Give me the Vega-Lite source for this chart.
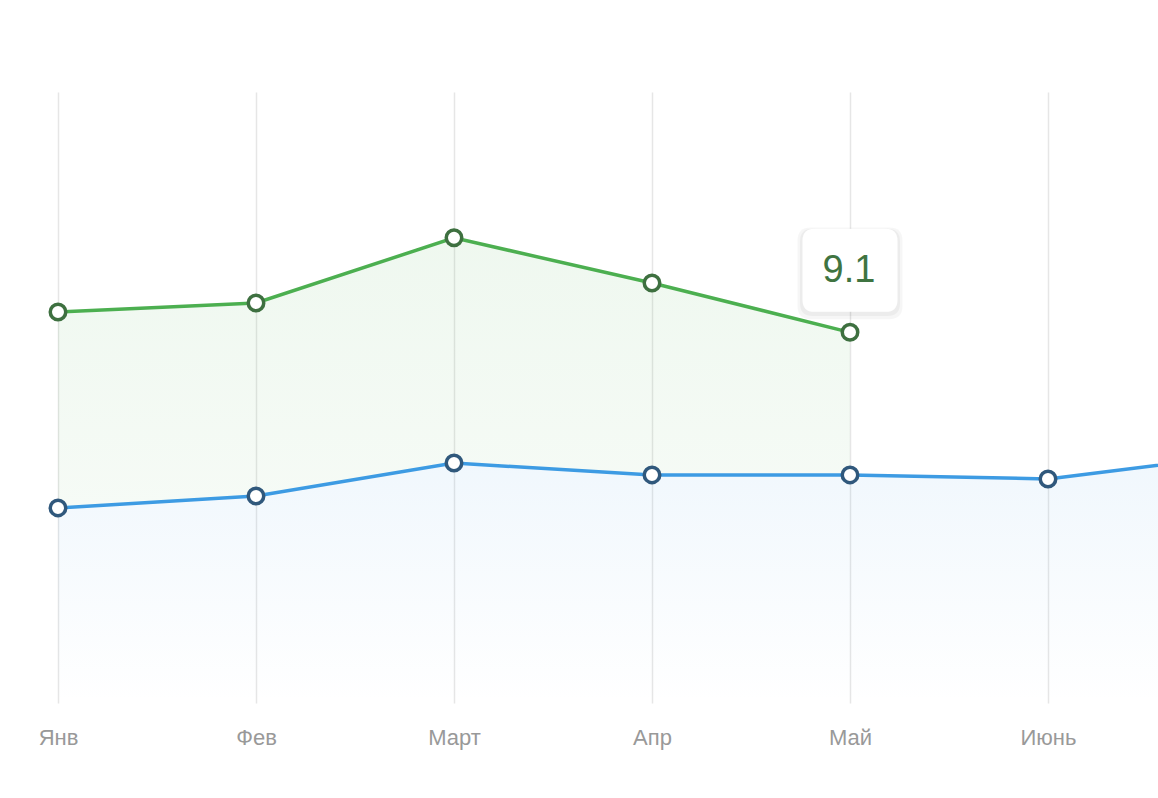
{
  "$schema": "https://vega.github.io/schema/vega-lite/v6.json",
  "autosize": {"type": "none"},
  "width": 1100,
  "height": 611,
  "padding": {"left": 58, "top": 92, "right": 0, "bottom": 95},
  "background": "#ffffff",
  "config": {"view": {"stroke": null}, "font": "Liberation Sans"},
  "data": {
    "values": [
      {"month": "Янв", "green": 9.6, "blue": 4.79},
      {"month": "Фев", "green": 9.82, "blue": 5.08},
      {"month": "Март", "green": 11.42, "blue": 5.89},
      {"month": "Апр", "green": 10.31, "blue": 5.6},
      {"month": "Май", "green": 9.1, "blue": 5.6},
      {"month": "Июнь", "green": null, "blue": 5.5},
      {"month": "Июль", "green": null, "blue": 6.11}
    ]
  },
  "encoding": {
    "x": {
      "field": "month",
      "type": "ordinal",
      "sort": ["Янв", "Фев", "Март", "Апр", "Май", "Июнь", "Июль"],
      "scale": {"type": "point", "domain": ["Янв", "Фев", "Март", "Апр", "Май", "Июнь", "Июль"], "range": [0, 1188], "padding": 0},
      "axis": {
        "title": null,
        "domain": false,
        "ticks": false,
        "grid": true,
        "gridColor": "#e6e6e6",
        "gridWidth": 1.5,
        "labelFont": "Liberation Sans",
        "labelFontSize": 22,
        "labelColor": "#999999",
        "labelPadding": 24,
        "labelAngle": 0,
        "labelExpr": "datum.value === 'Июль' ? '' : datum.label"
      }
    }
  },
  "layer": [
    {
      "transform": [{"filter": "isValid(datum.green)"}],
      "mark": {"type": "area", "clip": true, "color": {"gradient": "linear", "x1": 0, "y1": 0, "x2": 0, "y2": 1, "stops": [{"offset": 0, "color": "rgba(76,175,80,0.09)"}, {"offset": 1, "color": "rgba(76,175,80,0.05)"}]}},
      "encoding": {
        "y": {"field": "green", "type": "quantitative", "scale": {"domain": [0, 15], "nice": false, "zero": true}, "axis": null},
        "y2": {"field": "blue"}
      }
    },
    {
      "mark": {"type": "area", "clip": true, "color": {"gradient": "linear", "x1": 0, "y1": 0, "x2": 0, "y2": 1, "stops": [{"offset": 0, "color": "rgba(61,155,227,0.08)"}, {"offset": 1, "color": "rgba(61,155,227,0)"}]}},
      "encoding": {"y": {"field": "blue", "type": "quantitative"}}
    },
    {
      "transform": [{"filter": "isValid(datum.green)"}],
      "mark": {"type": "line", "clip": true, "color": "#4caf50", "strokeWidth": 3.5},
      "encoding": {"y": {"field": "green", "type": "quantitative"}}
    },
    {
      "mark": {"type": "line", "clip": true, "color": "#3d9be3", "strokeWidth": 3.5},
      "encoding": {"y": {"field": "blue", "type": "quantitative"}}
    },
    {
      "transform": [{"filter": "isValid(datum.green)"}],
      "mark": {"type": "point", "filled": true, "fill": "#ffffff", "stroke": "#3e7040", "strokeWidth": 3.5, "size": 240, "opacity": 1},
      "encoding": {"y": {"field": "green", "type": "quantitative"}}
    },
    {
      "transform": [{"filter": "datum.month !== 'Июль'"}],
      "mark": {"type": "point", "filled": true, "fill": "#ffffff", "stroke": "#30587c", "strokeWidth": 3.5, "size": 240, "opacity": 1},
      "encoding": {"y": {"field": "blue", "type": "quantitative"}}
    },
    {
      "transform": [{"filter": "datum.month === 'Май'"}],
      "mark": {"type": "point", "filled": true, "fill": "#000000", "fillOpacity": 0.035, "strokeWidth": 0, "size": 11025, "yOffset": -59, "shape": "M-0.75,-0.874 L0.75,-0.874 Q1,-0.874 1,-0.624 L1,0.624 Q1,0.874 0.75,0.874 L-0.75,0.874 Q-1,0.874 -1,0.624 L-1,-0.624 Q-1,-0.874 -0.75,-0.874 Z"},
      "encoding": {"y": {"field": "green", "type": "quantitative"}}
    },
    {
      "transform": [{"filter": "datum.month === 'Май'"}],
      "mark": {"type": "point", "filled": true, "fill": "#000000", "fillOpacity": 0.04, "strokeWidth": 0, "size": 10000, "yOffset": -60, "shape": "M-0.75,-0.874 L0.75,-0.874 Q1,-0.874 1,-0.624 L1,0.624 Q1,0.874 0.75,0.874 L-0.75,0.874 Q-1,0.874 -1,0.624 L-1,-0.624 Q-1,-0.874 -0.75,-0.874 Z"},
      "encoding": {"y": {"field": "green", "type": "quantitative"}}
    },
    {
      "transform": [{"filter": "datum.month === 'Май'"}],
      "mark": {"type": "point", "filled": true, "fill": "#ffffff", "fillOpacity": 1, "opacity": 1, "strokeWidth": 0, "size": 9025, "yOffset": -62, "shape": "M-0.75,-0.874 L0.75,-0.874 Q1,-0.874 1,-0.624 L1,0.624 Q1,0.874 0.75,0.874 L-0.75,0.874 Q-1,0.874 -1,0.624 L-1,-0.624 Q-1,-0.874 -0.75,-0.874 Z"},
      "encoding": {"y": {"field": "green", "type": "quantitative"}}
    },
    {
      "transform": [{"filter": "datum.month === 'Май'"}],
      "mark": {"type": "text", "font": "Liberation Sans", "fontSize": 38, "color": "#3f7441", "dy": -61, "dx": -1, "baseline": "middle", "align": "center"},
      "encoding": {
        "y": {"field": "green", "type": "quantitative"},
        "text": {"field": "green", "type": "quantitative", "format": ".1f"}
      }
    }
  ]
}
